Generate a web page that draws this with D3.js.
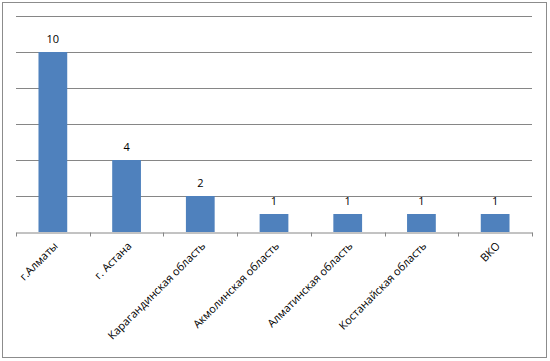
<!DOCTYPE html>
<html><head><meta charset="utf-8">
<script src="https://cdn.jsdelivr.net/npm/d3@7"></script>
<style>body{margin:0;background:#fff;}svg{display:block;font-family:"Open Sans","Liberation Sans",sans-serif;}</style>
</head><body>
<svg id="c" width="550" height="361"></svg>
<script>
const categories = ["г.Алматы","г. Астана","Карагандинская область","Акмолинская область","Алматинская область","Костанайская область","ВКО"];
const values = [10,4,2,1,1,1,1];
const yTicks = [0,2,4,6,8,10,12];

const svg = d3.select("#c");
const m = {left:16, right:532, top:16, bottom:232};

svg.append("rect").attr("x",2.5).attr("y",2.5).attr("width",544).attr("height",355)
  .attr("fill","#fff").attr("stroke","#8c8c8c").attr("stroke-width",1);

const x = d3.scaleBand().domain(categories).range([m.left, m.right]).paddingInner(0.61).paddingOuter(0.305);
const xb = d3.scaleBand().domain(categories).range([m.left, m.right]);
const y = d3.scaleLinear().domain([0,12]).range([m.bottom, m.top]);

svg.append("g").selectAll("line").data(yTicks.slice(1)).join("line")
  .attr("x1",m.left).attr("x2",m.right)
  .attr("y1",d=>Math.round(y(d))+0.5).attr("y2",d=>Math.round(y(d))+0.5)
  .attr("stroke","#868686").attr("stroke-width",1);

svg.append("g").selectAll("rect").data(values).join("rect")
  .attr("x",(d,i)=>x(categories[i])).attr("width",x.bandwidth())
  .attr("y",d=>y(d)).attr("height",d=>y(0)-y(d))
  .attr("fill","#4f81bd");

const xAxis = d3.axisBottom(xb).tickSize(0).tickFormat("");
const gx = svg.append("g").attr("transform",`translate(0,${Math.round(y(0))+0.5})`).call(xAxis);
gx.select(".domain").attr("stroke","#868686");
const boundaries = d3.range(categories.length+1).map(i=>m.left + i*xb.step());
gx.selectAll(".tk").data(boundaries).join("line").attr("class","tk")
  .attr("x1",d=>Math.round(d)+0.5).attr("x2",d=>Math.round(d)+0.5).attr("y1",0).attr("y2",4)
  .attr("stroke","#868686");

svg.append("g").selectAll("text").data(categories).join("text")
  .attr("transform",d=>`translate(${xb(d)+xb.bandwidth()/2+3},${m.bottom+12}) rotate(-45)`)
  .attr("text-anchor","end").attr("dy","0.35em")
  .attr("font-size",11).attr("fill","#000").text(d=>d);

svg.append("g").selectAll("text").data(values).join("text")
  .attr("x",(d,i)=>x(categories[i])+x.bandwidth()/2)
  .attr("y",d=>y(d)-9)
  .attr("text-anchor","middle").attr("font-size",11).attr("fill","#000").text(d=>d);
</script>
</body></html>
